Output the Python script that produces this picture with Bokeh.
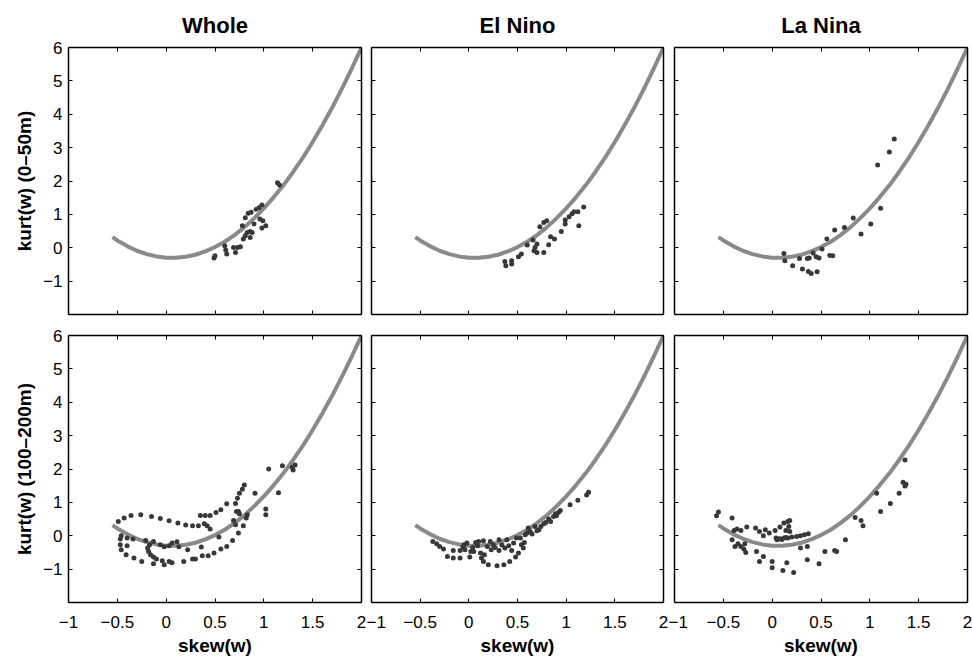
from bokeh.plotting import figure
from bokeh.layouts import column, row
from bokeh.models import (Range1d, FixedTicker, LinearAxis, CustomJSTickFormatter,
                          ColumnDataSource)
from bokeh.embed import file_html
from bokeh.resources import INLINE

FONT = "Liberation Sans"

# ---------------- data ----------------
col_titles = ["Whole", "El Nino", "La Nina"]
row_labels = ["kurt(w) (0\u201350m)", "kurt(w) (100\u2013200m)"]
x_label = "skew(w)"
x_ticks = [-1, -0.5, 0, 0.5, 1, 1.5, 2]
y_ticks = [-1, 0, 1, 2, 3, 4, 5, 6]

curve_skew = [-0.55, -0.5, -0.4, -0.3, -0.2, -0.1, 0.0, 0.1, 0.2, 0.3, 0.4, 0.5, 0.6,
              0.7, 0.8, 0.9, 1.0, 1.1, 1.2, 1.3, 1.4, 1.5, 1.6, 1.7, 1.8, 1.9, 2.0]
curve_kurt = [0.32, 0.22, 0.05, -0.09, -0.19, -0.26, -0.30, -0.30, -0.27, -0.21, -0.11, 0.02, 0.18,
              0.38, 0.61, 0.88, 1.18, 1.51, 1.87, 2.27, 2.70, 3.17, 3.67, 4.20, 4.77, 5.37, 6.0]

whole_top_skew = [0.49, 0.50, 0.60, 0.61, 0.62, 0.69, 0.71, 0.73, 0.76, 0.79,
                  0.81, 0.83, 0.86, 0.86, 0.88, 0.78, 0.81, 0.84, 0.87, 0.90,
                  0.92, 0.95, 0.98, 0.96, 0.99, 0.98, 1.02, 1.14, 1.16]
whole_top_kurt = [-0.31, -0.24, 0.06, -0.07, -0.19, 0.01, -0.14, 0.01, 0.03, 0.26,
                  0.36, 0.46, 0.49, 0.31, 0.46, 0.66, 0.90, 1.03, 1.06, 0.71,
                  1.15, 1.20, 1.28, 0.86, 0.81, 0.59, 0.66, 1.95, 1.88]

elnino_top_skew = [0.37, 0.38, 0.44, 0.44, 0.51, 0.54, 0.60, 0.66, 0.68, 0.67,
                   0.70, 0.70, 0.77, 0.73, 0.77, 0.80, 0.82, 0.84, 0.88, 0.95,
                   0.99, 0.99, 1.03, 1.06, 1.08, 1.12, 1.13, 1.18]
elnino_top_kurt = [-0.41, -0.54, -0.39, -0.49, -0.27, -0.19, 0.08, 0.23, 0.01, -0.09,
                   0.11, -0.14, -0.14, 0.63, 0.76, 0.81, 0.09, 0.33, 0.26, 0.49,
                   0.71, 0.83, 0.93, 1.02, 1.08, 1.08, 0.66, 1.22]

lanina_top_skew = [0.12, 0.13, 0.21, 0.28, 0.31, 0.36, 0.38, 0.37, 0.40, 0.42,
                   0.45, 0.48, 0.46, 0.51, 0.56, 0.59, 0.62, 0.64, 0.74, 0.83,
                   0.91, 1.01, 1.11, 1.08, 1.20, 1.25]
lanina_top_kurt = [-0.17, -0.39, -0.54, -0.32, -0.64, -0.32, -0.31, -0.71, -0.77, -0.16,
                   -0.27, -0.31, -0.72, -0.04, 0.26, -0.23, -0.24, 0.53, 0.61, 0.89,
                   0.41, 0.71, 1.18, 2.48, 2.87, 3.26]

whole_bot_skew = [-0.49, -0.43, -0.36, -0.26, -0.15, -0.06, 0.03, 0.12, 0.20, 0.27, 0.33, 0.35, 0.40, 0.45, 0.51, 0.56, 0.62,
                  0.71, 0.73, 0.75, 0.78, 0.80, 0.72, 0.74, 0.75, 0.82, 0.83, 0.69, 0.71, 0.79, 0.74,
                  0.68, 0.62, 0.56, 0.49, 0.43, 0.37, 0.30, 0.27, 0.18, 0.06, 0.03, -0.02,
                  -0.04, -0.13, -0.25, -0.33, -0.41, -0.46, -0.47, -0.47, -0.46, -0.40, -0.40, -0.34,
                  -0.21, -0.13, -0.06, -0.02, 0.03, 0.06, 0.11, 0.13, 0.22, 0.36, 0.54,
                  -0.19, -0.18, -0.16, -0.13, -0.10, -0.17,
                  0.39, 0.42, 0.45,
                  0.91, 1.05, 1.15, 1.02, 1.02, 1.19, 1.29, 1.30, 1.32]
whole_bot_kurt = [0.43, 0.53, 0.61, 0.63, 0.58, 0.52, 0.45, 0.38, 0.32, 0.30, 0.30, 0.61, 0.61, 0.61, 0.70, 0.78, 0.96,
                  0.97, 1.12, 1.27, 1.39, 1.52, 0.73, 0.73, 0.66, 0.53, 0.63, 0.46, 0.33, 0.30, 0.08,
                  -0.14, -0.32, -0.40, -0.52, -0.60, -0.60, -0.70, -0.70, -0.77, -0.81, -0.77, -0.87,
                  -0.75, -0.84, -0.77, -0.67, -0.57, -0.42, -0.27, -0.10, 0.00, -0.07, -0.30, -0.10,
                  -0.14, -0.17, -0.27, -0.33, -0.30, -0.22, -0.18, -0.33, -0.42, -0.34, -0.04,
                  -0.37, -0.47, -0.57, -0.64, -0.70, -0.27,
                  0.36, 0.30, 0.20,
                  1.27, 2.00, 1.29, 0.80, 0.63, 2.10, 2.05, 1.97, 2.12]

elnino_bot_skew = [-0.37, -0.33, -0.30, -0.26, -0.22, -0.16, -0.16, -0.09, -0.09, -0.05,
                   -0.04, -0.02, 0.01, 0.02, 0.05, 0.07, 0.10, 0.12, 0.13, 0.15,
                   0.15, 0.16, 0.20, 0.22, 0.23, 0.25, 0.29, 0.31, 0.31, 0.36,
                   0.37, 0.39, 0.42, 0.44, 0.46, 0.48, 0.49, 0.51, 0.54, 0.56,
                   0.53, 0.58, 0.60, 0.63, 0.61, 0.68, 0.72, 0.74, 0.77, 0.79,
                   0.82, 0.84, 0.87, 0.89, 0.90, 0.92, 0.94, 1.04, 1.12, 1.21, 1.23,
                   -0.06, 0.04, 0.09, 0.19, 0.27, 0.34, 0.41, 0.57, 0.65, 0.70]
elnino_bot_kurt = [-0.17, -0.24, -0.32, -0.40, -0.62, -0.44, -0.67, -0.67, -0.44, -0.27,
                   -0.42, -0.22, -0.64, -0.47, -0.47, -0.20, -0.17, -0.52, -0.67, -0.77,
                   -0.15, -0.57, -0.87, -0.17, -0.42, -0.27, -0.90, -0.12, -0.44, -0.87,
                   -0.37, -0.12, -0.77, -0.44, -0.22, -0.64, -0.07, -0.52, -0.27, -0.37,
                   -0.07, 0.03, 0.08, 0.13, 0.23, 0.28, 0.18, 0.28, 0.36, 0.40,
                   0.50, 0.43, 0.58, 0.66, 0.60, 0.70, 0.76, 0.93, 1.06, 1.22, 1.30,
                   -0.33, -0.35, -0.30, -0.32, -0.35, -0.28, -0.30, -0.20, 0.05, 0.15]

lanina_bot_skew = [-0.57, -0.55, -0.41, -0.39, -0.41, -0.36, -0.32, -0.26, -0.38, -0.35,
                   -0.32, -0.29, -0.27, -0.28, -0.17, -0.13, -0.09, -0.07, -0.03, 0.03,
                   0.08, 0.12, 0.16, 0.18, 0.17, 0.18, 0.14, 0.05, 0.08, 0.12,
                   0.16, 0.20, 0.25, 0.29, 0.33, 0.37, 0.29, 0.36, -0.16, -0.09,
                   -0.13, 0.00, 0.00, 0.11, 0.15, 0.22, 0.36, 0.48, 0.54, 0.64,
                   0.66, 0.75, 0.85, 0.91, 0.93, 1.07, 1.11, 1.21, 1.30, 1.34,
                   1.36, 1.37, 1.36,
                   0.06, 0.10, 0.14, 0.04]
lanina_bot_kurt = [0.60, 0.71, 0.53, 0.16, -0.12, 0.20, 0.16, 0.26, -0.32, -0.24,
                   -0.32, -0.40, -0.50, -0.24, 0.23, 0.13, 0.00, 0.18, 0.08, 0.16,
                   0.26, 0.38, 0.43, 0.46, 0.28, 0.13, 0.16, -0.12, -0.09, -0.07,
                   -0.07, -0.04, -0.02, 0.00, 0.03, 0.06, -0.37, -0.32, -0.47, -0.62,
                   -0.77, -0.77, -0.96, -1.04, -0.81, -1.10, -0.72, -0.84, -0.47, -0.44,
                   -0.47, -0.12, 0.55, 0.46, 0.30, 1.27, 0.73, 0.97, 1.27, 1.60,
                   1.49, 1.54, 2.27,
                   -0.10, -0.11, -0.05, -0.07]

panels = [
    [(whole_top_skew, whole_top_kurt), (elnino_top_skew, elnino_top_kurt), (lanina_top_skew, lanina_top_kurt)],
    [(whole_bot_skew, whole_bot_kurt), (elnino_bot_skew, elnino_bot_kurt), (lanina_bot_skew, lanina_bot_kurt)],
]

# ---------------- layout ----------------
left_b = [68, 5, 6]
right_b = [5, 5, 5]
frame_w = [293, 292, 293]
top_b = [46, 11]
bot_b = [10, 54]
frame_h = [268, 269]

LINE_COL = "#8a8a8a"
DOT_COL = "#383838"

label_fmt = CustomJSTickFormatter(code="return (tick < 0 ? '\u2212' : '') + String(Math.abs(tick));")


def make_axis(labeled):
    ax = LinearAxis(ticker=FixedTicker(ticks=[]),
                    major_tick_in=4, major_tick_out=0,
                    minor_tick_line_color=None,
                    axis_line_color="black", axis_line_width=1.5,
                    major_tick_line_color="black", major_tick_line_width=1)
    if labeled:
        ax.formatter = label_fmt
        ax.major_label_text_font = FONT
        ax.major_label_text_font_size = "17px"
        ax.major_label_text_color = "black"
        ax.major_label_standoff = 13
        ax.axis_label_text_font = FONT
        ax.axis_label_text_font_size = "19px"
        ax.axis_label_text_font_style = "bold"
        ax.axis_label_text_color = "black"
        ax.axis_label_standoff = 4
    else:
        ax.formatter = CustomJSTickFormatter(code="return '';")
        ax.major_label_text_font_size = "0px"
        ax.major_label_standoff = 0
    return ax


rows = []
for r in range(2):
    figs = []
    for c in range(3):
        p = figure(width=left_b[c] + frame_w[c] + right_b[c],
                   height=top_b[r] + frame_h[r] + bot_b[r],
                   x_range=Range1d(-1, 2), y_range=Range1d(-2, 6),
                   x_axis_location=None, y_axis_location=None,
                   output_backend="svg", toolbar_location=None,
                   min_border_left=left_b[c], min_border_right=right_b[c],
                   min_border_top=top_b[r], min_border_bottom=bot_b[r])
        p.grid.visible = False
        p.outline_line_color = None
        p.background_fill_color = "white"
        p.border_fill_color = "white"

        bx = make_axis(labeled=(r == 1))
        bx.ticker = FixedTicker(ticks=x_ticks)
        if r == 1:
            bx.axis_label = x_label
        p.add_layout(bx, "below")
        tx = make_axis(False)
        tx.ticker = FixedTicker(ticks=x_ticks)
        p.add_layout(tx, "above")
        ly = make_axis(labeled=(c == 0))
        ly.ticker = FixedTicker(ticks=y_ticks)
        if c == 0:
            ly.axis_label = row_labels[r]
            ly.major_label_standoff = 6
            ly.axis_label_standoff = 5
        p.add_layout(ly, "left")
        ry = make_axis(False)
        ry.ticker = FixedTicker(ticks=y_ticks)
        p.add_layout(ry, "right")

        if r == 0:
            p.title.text = col_titles[c]
            p.title.align = "center"
            p.title.text_font = FONT
            p.title.text_font_size = "22px"
            p.title.text_font_style = "bold"
            p.title.text_color = "black"
            p.title.standoff = 20

        p.line(curve_skew, curve_kurt, line_color=LINE_COL, line_width=4)
        sx, sy = panels[r][c]
        src = ColumnDataSource(data=dict(skew=sx, kurt=sy))
        p.scatter("skew", "kurt", source=src, size=5, fill_color=DOT_COL,
                  line_color=None)
        figs.append(p)
    rows.append(row(*figs, spacing=0))

layout = column(*rows, spacing=0)

open("out.html", "w").write(file_html(layout, INLINE))
